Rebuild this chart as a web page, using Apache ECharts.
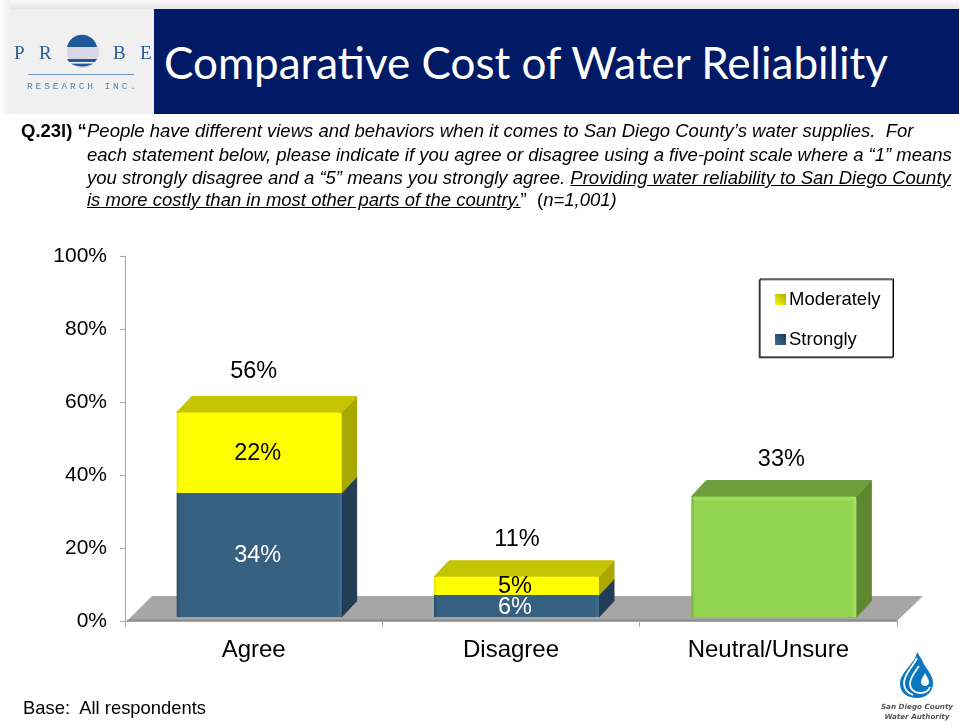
<!DOCTYPE html>
<html>
<head>
<meta charset="utf-8">
<script src="https://cdn.jsdelivr.net/npm/echarts@6/dist/echarts.min.js"></script>
<style>
  html, body { margin: 0; padding: 0; background: #fff; }
  body { position: relative; width: 959px; height: 727px; overflow: hidden; font-family: "Liberation Sans", Arial, sans-serif; color: #000; }
  #chart { position: absolute; left: 0; top: 0; width: 959px; height: 727px; }
  .fade-top { position: absolute; left: 0; top: 0; width: 959px; height: 9px; background: linear-gradient(#fafafa, #e6e6e6); }
  .fade-left { position: absolute; left: 0; top: 0; width: 11px; height: 114px; background: linear-gradient(90deg, #fff, #eee); }
  .logo-box { position: absolute; left: 11px; top: 9px; width: 143px; height: 105px; background: #f0f0f0; }
  .banner { position: absolute; left: 154px; top: 9px; width: 805px; height: 105px; background: #001a66; }
  .title { position: absolute; left: 164px; top: 36px; font: 44px Lato, sans-serif; color: #fff; white-space: nowrap; }
  .q { position: absolute; white-space: nowrap; font-size: 18.5px; line-height: 22px; font-style: italic; }
  .q b { font-style: normal; }
  .q span { font-style: normal; }
  .base { position: absolute; left: 23px; top: 697px; font-size: 18.4px; line-height: 22px; white-space: nowrap; }
  svg.logo { position: absolute; left: 0; top: 0; }
</style>
</head>
<body>
<div id="chart"></div>
<div class="fade-top"></div>
<div class="fade-left"></div>
<div class="logo-box"></div>
<div class="banner"></div>
<div class="title">Comparative Cost of Water Reliability</div>
<div class="q" style="left:21px;top:120px"><b>Q.23l) “</b></div>
<div class="q" style="left:87px;top:120px">People have different views and behaviors when it comes to San Diego County’s water supplies.&nbsp; For</div>
<div class="q" style="left:87px;top:144px">each statement below, please indicate if you agree or disagree using a five-point scale where a “1” means</div>
<div class="q" style="left:87px;top:167px">you strongly disagree and a “5” means you strongly agree. <u>Providing water reliability to San Diego County</u></div>
<div class="q" style="left:87px;top:189px"><u>is more costly than in most other parts of the country.</u><span>”&nbsp; (</span>n=1,001)</div>
<div class="base">Base:&nbsp; All respondents</div>

<svg class="logo" width="959" height="727">
  <!-- probe logo -->
  <g font-family="Liberation Serif, serif" fill="#2c5c92" font-size="19">
    <text x="14" y="59">P</text><text x="39" y="59">R</text>
    <text x="113" y="59">B</text><text x="140" y="59">E</text>
  </g>
  <circle cx="83" cy="52" r="16" fill="#d9d6e6"/>
  <path d="M67 47 A15.5 16.5 0 0 1 97 47 Z" fill="#1f5a98"/>
  <path d="M67 59 L97 59 A15.5 10 0 0 1 67 59 Z" fill="#1f5a98"/>
  <rect x="67" y="62" width="30" height="1.6" fill="#f0f0f0"/>
  <line x1="28" y1="74.5" x2="134" y2="74.5" stroke="#6f97c0" stroke-width="1"/>
  <text x="27" y="89" font-family="Liberation Mono, monospace" font-size="9.5" textLength="109" fill="#5c7fa6">RESEARCH INC.</text>
  <!-- water authority logo -->
  <path d="M917 652 C915 664 900 672 900 684 C900 693 908 698 917 698 C926 698 933 692 933 683 C933 674 925 668 922 660 Z" fill="#0a77bf"/>
  <path d="M917 658 C912 668 904 674 904 683 C904 689 908 693 913 695" fill="none" stroke="#fff" stroke-width="1.8"/>
  <path d="M919 666 C915 672 910 677 910 684 C910 689 914 693 920 693 C926 693 929 690 930 687" fill="none" stroke="#fff" stroke-width="1.8"/>
  <path d="M925 673 C923 677 921 679 921 682 C921 684.5 923 686 925 686 C927 686 929 684.5 929 682 C929 679 927 677 925 673 Z" fill="#fff"/>
  <g font-family="DejaVu Sans, sans-serif" font-size="7.2" font-weight="bold" font-style="italic" fill="#555" text-anchor="middle">
    <text x="917" y="708.5">San Diego County</text>
    <text x="917" y="718.5">Water Authority</text>
  </g>
</svg>

<script>
const categories = ['Agree', 'Disagree', 'Neutral/Unsure']
const strongly = [34, 6, null]
const moderately = [22, 5, null]
const neutral = [null, null, 33]
const totals = [56, 11, 33]
const yTicks = [0, 20, 40, 60, 80, 100]

const FONT = '"Liberation Sans", Arial, sans-serif'
const BAR_W = 165
const BAR_SHIFT = 5.5    // bar front sits a little right of the category centre
const LIFT = 4           // and a little above the axis line
const DEPTH_X = 15
const DEPTH_Y = 16

const blue = { front: '#356080', edgeL: '#2a4d68', edgeR: '#3f6f94', side: '#233d55', top: '#2c4f6a' }
const yellow = { front: '#ffff00', edgeL: '#e8e800', edgeR: '#ffff00', side: '#a8a800', top: '#c4c400' }
const green = { front: '#92d350', edgeL: '#74b03c', edgeR: '#a8e864', side: '#5f8732', top: '#6f9e3d', shine: '#a6e860' }

const myChart = echarts.init(document.getElementById('chart'))

// one box segment: front, side and optional top face
const boxItem = (colors, showLabel, labelColor) => (params, api) => {
  const cat = api.value(0)
  const low = api.value(1)
  const high = api.value(2)
  const isTop = api.value(3) === 1
  const xMid = api.coord([cat, 0])[0] + BAR_SHIFT
  const yLow = api.coord([cat, low])[1] - LIFT
  const yHigh = api.coord([cat, high])[1] - LIFT
  const x0 = xMid - BAR_W / 2
  const x1 = xMid + BAR_W / 2
  const children = [
    {
      type: 'polygon',
      shape: { points: [[x1, yLow], [x1 + DEPTH_X, yLow - DEPTH_Y], [x1 + DEPTH_X, yHigh - DEPTH_Y], [x1, yHigh]] },
      style: { fill: colors.side, lineJoin: 'round', stroke: colors.side, lineWidth: 1 }
    }
  ]
  if (isTop) {
    children.push({
      type: 'polygon',
      shape: { points: [[x0, yHigh], [x0 + DEPTH_X, yHigh - DEPTH_Y], [x1 + DEPTH_X, yHigh - DEPTH_Y], [x1, yHigh]] },
      style: { fill: colors.top, lineJoin: 'round', stroke: colors.top, lineWidth: 1 }
    })
  }
  children.push({
    type: 'rect',
    shape: { x: x0, y: yHigh, width: BAR_W, height: yLow - yHigh, r: isTop ? [3, 3, 0, 0] : 0 },
    style: {
      fill: new echarts.graphic.LinearGradient(0, 0, 1, 0, [
        { offset: 0, color: colors.edgeL },
        { offset: 0.02, color: colors.front },
        { offset: 0.97, color: colors.front },
        { offset: 1, color: colors.edgeR }
      ])
    }
  })
  if (colors.shine) {
    children.push({
      type: 'rect',
      shape: { x: x0 + 3, y: yHigh + 1, width: BAR_W - 6, height: 4 },
      style: { fill: new echarts.graphic.LinearGradient(0, 0, 0, 1, [
        { offset: 0, color: colors.shine },
        { offset: 1, color: colors.front }
      ]) }
    })
  }
  if (showLabel) {
    children.push({
      type: 'text',
      style: {
        x: xMid - 1.5, y: (yLow + yHigh) / 2 + 1,
        text: (high - low) + '%',
        fill: labelColor, font: '23.5px ' + FONT,
        align: 'center', verticalAlign: 'middle'
      },
      z2: 10
    })
  }
  return { type: 'group', children }
}

const floorItem = (params) => {
  const { x, y, width, height } = params.coordSys
  const bottom = y + height
  return {
    type: 'group',
    children: [
      {
        type: 'polygon',
        shape: { points: [[x + 2, bottom], [x + width, bottom], [x + width + 26, bottom - 25], [x + 27, bottom - 25]] },
        style: { fill: '#a6a6a6' }
      },
      {
        type: 'rect',
        shape: { x: x + 2, y: bottom - 1.5, width: width - 2, height: 1.5 },
        style: { fill: '#8c8c8c' }
      }
    ]
  }
}

// total labels are placed by hand in the source slide
const totalShiftX = [-5.5, 0.5, 7.5]
const totalShiftY = [-25, -21, -21]
const totalItem = (params, api) => {
  const i = api.value(0)
  const xMid = api.coord([i, 0])[0] + BAR_SHIFT
  const yTop = api.coord([i, api.value(1)])[1] - LIFT - DEPTH_Y
  return {
    type: 'text',
    style: {
      x: xMid + totalShiftX[i], y: yTop + totalShiftY[i],
      text: api.value(1) + '%',
      fill: '#000', font: '23.5px ' + FONT,
      align: 'center', verticalAlign: 'middle'
    }
  }
}

const toSegments = (values, bases, tops) => values.map((v, i) => v == null ? null : [i, bases[i], bases[i] + v, tops ? 1 : 0]).filter(Boolean)
const zeros = categories.map(() => 0)

const iconFill = (dark, light) => new echarts.graphic.LinearGradient(1, 0, 0, 1, [
  { offset: 0, color: dark },
  { offset: 1, color: light }
])

const option = {
  animation: false,
  backgroundColor: 'transparent',
  legend: {
    data: ['Moderately', 'Strongly'],
    orient: 'vertical',
    left: 760,
    top: 279,
    padding: [11, 13, 8, 15],
    icon: 'rect',
    itemWidth: 11,
    itemHeight: 11,
    itemGap: 21,
    backgroundColor: '#fff',
    borderColor: '#000',
    borderWidth: 1,
    shadowColor: 'rgba(0,0,0,0.45)',
    shadowOffsetX: -1,
    shadowOffsetY: 1,
    shadowBlur: 0,
    textStyle: { fontFamily: FONT, fontSize: 18.5, color: '#000', padding: [0, 0, 0, -2] }
  },
  grid: { left: 125, top: 256, width: 772, height: 365, containLabel: false },
  xAxis: {
    type: 'category',
    data: categories,
    axisLine: { lineStyle: { color: '#a6a6a6', width: 1 } },
    axisTick: { show: true, length: 6, alignWithLabel: false, lineStyle: { color: '#a6a6a6' } },
    axisLabel: { color: '#000', fontFamily: FONT, fontSize: 24, margin: 17 }
  },
  yAxis: {
    type: 'value',
    min: yTicks[0],
    max: yTicks[yTicks.length - 1],
    interval: 20,
    axisLine: { show: true, lineStyle: { color: '#a6a6a6', width: 1 } },
    axisTick: { show: true, length: 5, lineStyle: { color: '#a6a6a6' } },
    axisLabel: { color: '#000', fontFamily: FONT, fontSize: 21, margin: 18, formatter: '{value}%' },
    splitLine: { show: false }
  },
  series: [
    {
      name: 'floor', type: 'custom', silent: true, z: 1,
      renderItem: floorItem, data: [[0]], encode: { x: 0 }
    },
    {
      name: 'Strongly', type: 'custom', z: 2,
      renderItem: boxItem(blue, true, '#fff'),
      data: toSegments(strongly, zeros, false),
      encode: { x: 0, y: [1, 2] },
      itemStyle: { color: iconFill('#1f3a52', '#3f6f94') }
    },
    {
      name: 'Moderately', type: 'custom', z: 3,
      renderItem: boxItem(yellow, true, '#000'),
      data: toSegments(moderately, strongly, true),
      encode: { x: 0, y: [1, 2] },
      itemStyle: { color: iconFill('#a8a800', '#ffff00') }
    },
    {
      name: 'Neutral/Unsure', type: 'custom', z: 2,
      renderItem: boxItem(green, false),
      data: toSegments(neutral, zeros, true),
      encode: { x: 0, y: [1, 2] },
      itemStyle: { color: '#92d350' }
    },
    {
      name: 'Total', type: 'custom', z: 5,
      renderItem: totalItem,
      data: totals.map((v, i) => [i, v]),
      encode: { x: 0, y: 1 }
    }
  ]
}

myChart.setOption(option)
</script>
</body>
</html>
